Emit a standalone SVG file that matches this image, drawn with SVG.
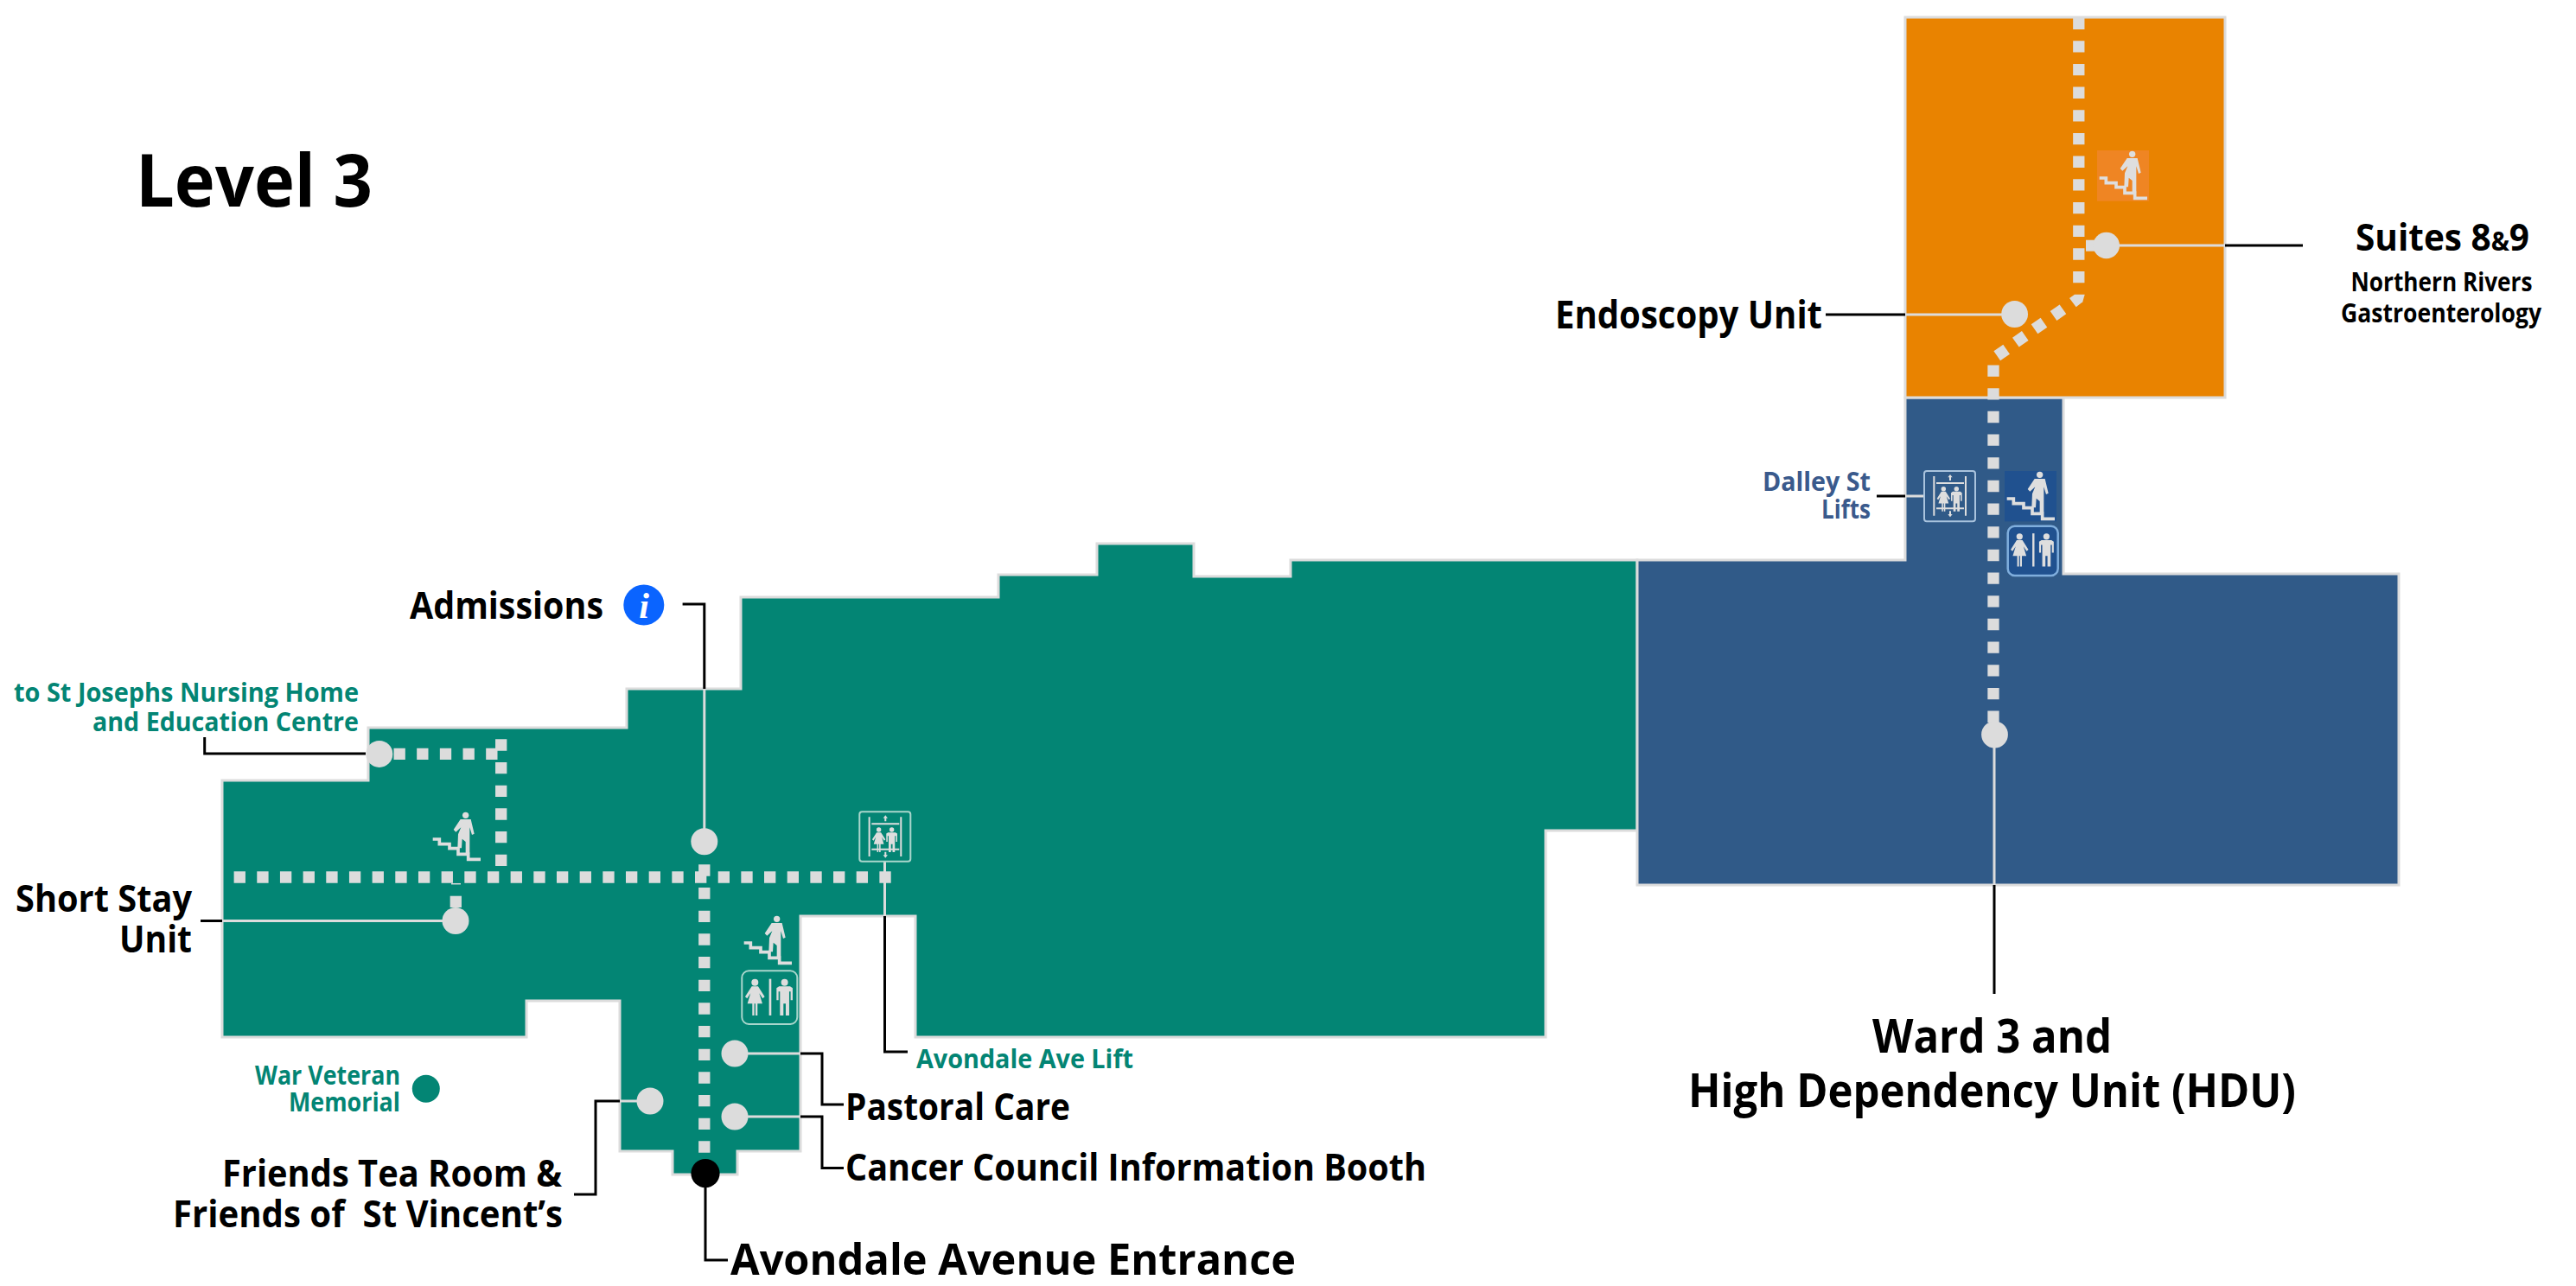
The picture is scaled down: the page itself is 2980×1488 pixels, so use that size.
<svg xmlns="http://www.w3.org/2000/svg" width="2980" height="1488" viewBox="0 0 2980 1488">
<style>
text{font-family:"Open Sans","Liberation Sans",sans-serif;font-weight:700;fill:#000}
.teal{fill:#038574}.blue{fill:#3A5A8C}
.r{text-anchor:end}
.area{stroke:#dcdcdc;stroke-width:3}
.walk{fill:none;stroke:#dcdcdc;stroke-width:13.3;stroke-dasharray:13.33 13.34}
.dot{fill:#dcdcdc}
.k{fill:none;stroke:#000;stroke-width:3}
.g{fill:none;stroke:#dcdcdc;stroke-width:3}
.ic{fill:#dedede}
.icl{fill:none;stroke:#dedede}
</style>
<defs>
<g id="stairs">
<circle class="ic" cx="116" cy="10" r="11"/>
<path class="ic" d="M98 24H134L146 74 138 78 130 52V142H116V102L104 92 102 124H88L90 76 100 52 82 68 74 60Z"/>
<path class="icl" stroke-width="11" d="M2 93H25V110H60V125H90V145H125V163H168"/>
</g>
<g id="woman">
<circle class="ic" cx="0" cy="0" r="12"/>
<path class="ic" d="M-11 14H11L34 50 27 56 15 38 26 74H9V115H2V74H-2V115H-9V74H-26L-15 38-27 56-34 50Z"/>
</g>
<g id="man">
<circle class="ic" cx="0" cy="0" r="12"/>
<path class="ic" d="M-19 14H19L28 20V62H21V32H16V115H4V74H-4V115H-16V32H-21V62H-28V20Z"/>
</g>
<g id="wc">
<g transform="translate(45 40)"><use href="#woman"/></g>
<g transform="translate(148 40)"><use href="#man"/></g>
<path class="icl" stroke-width="8" d="M98 28V155"/>
</g>
<g id="lift">
<path class="icl" stroke-width="6" d="M34 18V155M144 18V155M42 42H138M42 130H138"/>
<path class="ic" d="M90 12L98 22H93V33H87V22H82ZM90 160L98 150H93V139H87V150H82Z"/>
<g transform="translate(67 62) scale(.68)"><use href="#woman"/></g>
<g transform="translate(112 62) scale(.68)"><use href="#man"/></g>
</g>
</defs>

<g id="area-teal"><path class="area" fill="#038574" d="M257 903H426V842H725V797H857V691H1155V665H1269V629H1381V667H1493V648H1894V961H1788V1200H1059V1060H926V1332H853V1359H778V1332H717V1158H609V1200H257Z"/></g>
<g id="area-blue"><path class="area" fill="#305A88" d="M1894 648H2204V460H2387V664H2775V1024H1894Z"/></g>
<g id="area-orange"><rect class="area" fill="#E98300" x="2204" y="20" width="370" height="440"/></g>

<g id="walkways">
<path class="walk" d="M270.6 1015H1031"/>
<path class="walk" stroke-dashoffset="13.33" d="M579.7 842V1008.3"/>
<path class="walk" d="M455.5 872.4H576"/>
<path class="walk" d="M527.3 1036.7V1050"/>
<path d="M522 1022.7H533" stroke="#dcdcdc" stroke-width="1.5"/>
<path class="walk" d="M814.8 1000.3V1333.7"/>
<path class="walk" d="M2404.8 20.6V327.4"/>
<path class="dot" d="M2394 345L2400 340.7H2411.7L2409.3 349.3 2401.7 355.3Z"/>
<rect class="dot" x="-6.65" y="-6.65" width="13.3" height="13.3" transform="translate(2381 361.7) rotate(-35)"/>
<rect class="dot" x="-6.65" y="-6.65" width="13.3" height="13.3" transform="translate(2359 377) rotate(-35)"/>
<rect class="dot" x="-6.65" y="-6.65" width="13.3" height="13.3" transform="translate(2337.3 392.3) rotate(-35)"/>
<rect class="dot" x="-6.65" y="-6.65" width="13.3" height="13.3" transform="translate(2315.7 408) rotate(-35)"/>
<path class="walk" d="M2306 422.5V840"/>
<path d="M2413 277.7H2424V290.7H2413Z" class="dot"/>
</g>

<g id="connectors">
<path class="g" d="M814.8 797V974"/><path class="k" d="M789.6 699H814.8V797"/>
<path class="k" d="M236.7 853V872H423"/>
<path class="g" d="M257 1065.5H527"/><path class="k" d="M232 1065.5H257"/>
<path class="g" d="M717 1274H752"/><path class="k" d="M664 1382H689V1274H717"/>
<path class="g" d="M850 1219H926"/><path class="k" d="M926 1219H951V1278H976"/>
<path class="g" d="M850 1292H926"/><path class="k" d="M926 1292H951V1351.5H976"/>
<path class="k" d="M816 1357V1458H842"/>
<path class="g" d="M1023.5 997V1060"/><path class="k" d="M1023.5 1060V1217H1050"/>
<path class="g" d="M2436 284H2574"/><path class="k" d="M2574 284H2664"/>
<path class="g" d="M2330 364H2204"/><path class="k" d="M2204 364H2112"/>
<path class="g" d="M2204 574H2226"/><path class="k" d="M2171 574H2204"/>
<path class="g" d="M2307 849V1024"/><path class="k" d="M2307 1024V1150"/>
</g>

<g id="title"><text x="157" y="239" font-size="84" textLength="274" lengthAdjust="spacingAndGlyphs">Level 3</text></g>

<g id="admissions">
<circle class="dot" cx="814.8" cy="973.7" r="15.5"/>
<text x="474" y="716" font-size="43" textLength="224" lengthAdjust="spacingAndGlyphs">Admissions</text>
<circle cx="744.8" cy="700" r="23.5" fill="#0A64FF"/>
<text x="745" y="715" font-size="42" text-anchor="middle" style="font-family:'Liberation Serif',serif;fill:#fff;font-style:italic">i</text>
</g>
<g id="st-josephs">
<circle class="dot" cx="438.8" cy="872.4" r="15.5"/>
<text class="teal r" x="415" y="812" font-size="30" textLength="399" lengthAdjust="spacingAndGlyphs">to St Josephs Nursing Home</text>
<text class="teal r" x="415" y="846" font-size="30" textLength="308" lengthAdjust="spacingAndGlyphs">and Education Centre</text>
</g>
<g id="short-stay">
<circle class="dot" cx="527" cy="1065.5" r="15.5"/>
<text class="r" x="222" y="1055" font-size="43" textLength="204" lengthAdjust="spacingAndGlyphs">Short Stay</text>
<text class="r" x="222" y="1102" font-size="43" textLength="84" lengthAdjust="spacingAndGlyphs">Unit</text>
</g>
<g id="war-memorial">
<circle cx="492.8" cy="1259.7" r="16" fill="#038574"/>
<text class="teal r" x="463" y="1255" font-size="30" textLength="168" lengthAdjust="spacingAndGlyphs">War Veteran</text>
<text class="teal r" x="463" y="1286" font-size="30" textLength="129" lengthAdjust="spacingAndGlyphs">Memorial</text>
</g>
<g id="friends">
<circle class="dot" cx="752" cy="1274" r="15.5"/>
<text class="r" x="650" y="1373" font-size="43" textLength="393" lengthAdjust="spacingAndGlyphs">Friends Tea Room &amp;</text>
<text class="r" x="651" y="1420" font-size="43" textLength="451" lengthAdjust="spacingAndGlyphs" xml:space="preserve">Friends of  St Vincent’s</text>
</g>
<g id="pastoral">
<circle class="dot" cx="850" cy="1219" r="15.5"/>
<text x="978" y="1296" font-size="43" textLength="260" lengthAdjust="spacingAndGlyphs">Pastoral Care</text>
</g>
<g id="cancer-council">
<circle class="dot" cx="850" cy="1292" r="15.5"/>
<text x="978" y="1366" font-size="43" textLength="672" lengthAdjust="spacingAndGlyphs">Cancer Council Information Booth</text>
</g>
<g id="entrance">
<circle cx="816" cy="1357.6" r="16.6" fill="#000"/>
<text x="845" y="1475" font-size="50" textLength="654" lengthAdjust="spacingAndGlyphs">Avondale Avenue Entrance</text>
</g>
<g id="avondale-lift">
<rect x="994.3" y="939.3" width="59" height="57.4" rx="3" fill="#038574" stroke="#a9d6cc" stroke-width="2"/>
<g transform="translate(994.3 939.3) scale(.3333)"><use href="#lift"/></g>
<text class="teal" x="1060" y="1236" font-size="30" textLength="251" lengthAdjust="spacingAndGlyphs">Avondale Ave Lift</text>
</g>
<g id="stairs-1" transform="translate(500 940) scale(.3333)"><use href="#stairs"/></g>
<g id="stairs-2" transform="translate(860 1060) scale(.3333)"><use href="#stairs"/></g>
<g id="toilets-1">
<rect x="858.3" y="1123.3" width="64" height="61.7" rx="8" fill="none" stroke="#a9d6cc" stroke-width="2"/>
<g transform="translate(858.3 1123.3) scale(.3333)"><use href="#wc"/></g>
</g>

<g id="endoscopy">
<circle class="dot" cx="2330.6" cy="363.5" r="15.4"/>
<text x="1799" y="380" font-size="45" textLength="309" lengthAdjust="spacingAndGlyphs">Endoscopy Unit</text>
</g>
<g id="suites">
<circle class="dot" cx="2436.7" cy="284" r="15.3"/>
<text x="2725" y="290" font-size="43" textLength="201" lengthAdjust="spacingAndGlyphs">Suites 8<tspan font-size="30">&amp;</tspan>9</text>
<text x="2824.5" y="337" font-size="30" text-anchor="middle" textLength="210" lengthAdjust="spacingAndGlyphs">Northern Rivers</text>
<text x="2824" y="373" font-size="30" text-anchor="middle" textLength="232" lengthAdjust="spacingAndGlyphs">Gastroenterology</text>
</g>
<g id="stairs-orange">
<rect x="2426" y="174" width="60" height="58.7" fill="#EF8523"/>
<g transform="translate(2428 175) scale(.3333)"><use href="#stairs"/></g>
</g>
<g id="dalley-lifts">
<rect x="2226" y="545" width="59" height="58.3" rx="3" fill="#305A88" stroke="#a9c3dd" stroke-width="2"/>
<g transform="translate(2226 545) scale(.3333)"><use href="#lift"/></g>
<text class="blue r" x="2164" y="568" font-size="30" textLength="125" lengthAdjust="spacingAndGlyphs">Dalley St</text>
<text class="blue r" x="2164" y="600" font-size="30" textLength="57" lengthAdjust="spacingAndGlyphs">Lifts</text>
</g>
<g id="stairs-blue">
<rect x="2319" y="545" width="60" height="58.3" fill="#20518F"/>
<g transform="translate(2321 546) scale(.3333)"><use href="#stairs"/></g>
</g>
<g id="toilets-2">
<rect x="2322.7" y="608.7" width="58" height="57.3" rx="8" fill="#20518F" stroke="#7FAEDD" stroke-width="2.5"/>
<g transform="translate(2322.7 608.7) scale(.302)"><use href="#wc"/></g>
</g>
<g id="ward-3">
<circle class="dot" cx="2307.5" cy="850" r="15.4"/>
<text x="2166" y="1218" font-size="54" textLength="277" lengthAdjust="spacingAndGlyphs">Ward 3 and</text>
<text x="1953" y="1281" font-size="54" textLength="703" lengthAdjust="spacingAndGlyphs">High Dependency Unit (HDU)</text>
</g>
</svg>
